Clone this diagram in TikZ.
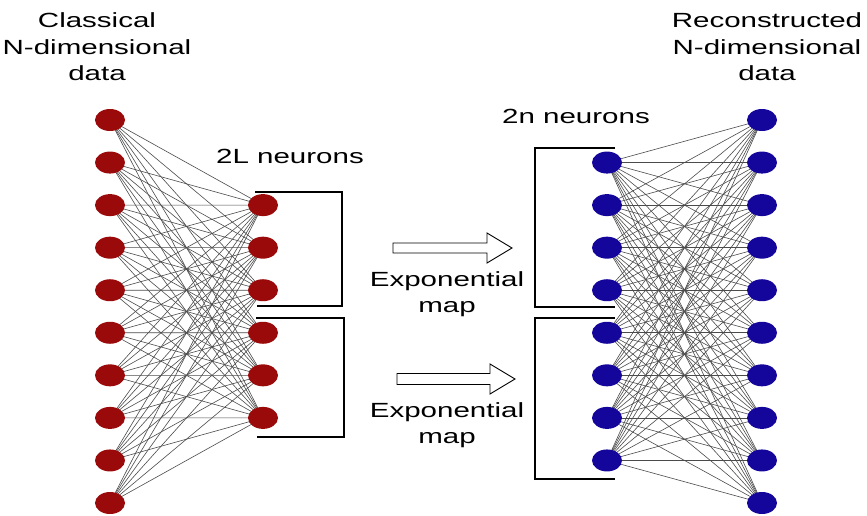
\documentclass[tikz,border=0pt]{standalone}
\usepackage{fontspec}
\setmainfont[FakeStretch=1.44]{Liberation Sans}
\usetikzlibrary{shapes.geometric}
\definecolor{nred}{RGB}{155,10,10}
\definecolor{nblue}{RGB}{20,5,155}
\definecolor{edgegray}{RGB}{75,75,75}
\pgfdeclarelayer{bg}
\pgfsetlayers{bg,main}
\tikzset{
  neuronR/.style={ellipse, fill=nred, minimum width=30pt, minimum height=22pt, inner sep=0pt},
  neuronB/.style={ellipse, fill=nblue, minimum width=30pt, minimum height=22pt, inner sep=0pt},
  edgeline/.style={draw=edgegray, line width=0.6pt},
  bracketline/.style={draw=black, line width=2pt},
  hollowarrow/.style={draw=black, line width=0.9pt, fill=white, line join=miter},
  lbl/.style={anchor=base, inner sep=0pt, font=\fontsize{20.5}{24}\selectfont}
}
\begin{document}
\begin{tikzpicture}[x=1pt,y=-1pt]
\useasboundingbox (0,0) rectangle (867,515);
% neurons
\foreach \i in {1,...,10} {
  \node[neuronR] (l\i) at (110,{120+42.555*(\i-1)}) {};
  \node[neuronB] (r\i) at (762,{120+42.555*(\i-1)}) {};
}
\foreach \j in {1,...,6} {
  \node[neuronR] (m\j) at (263,{205.11+42.555*(\j-1)}) {};
}
\foreach \j in {1,...,8} {
  \node[neuronB] (b\j) at (607,{162.555+42.555*(\j-1)}) {};
}
% connections
\begin{pgfonlayer}{bg}
\foreach \i in {1,...,10} {
  \foreach \j in {1,...,6} {
    \draw[edgeline] (l\i.center) -- (m\j.center);
  }
  \foreach \j in {1,...,8} {
    \draw[edgeline] (b\j.center) -- (r\i.center);
  }
}
\end{pgfonlayer}
% brackets
\draw[bracketline] (255,192) -- (342,192) -- (342,306) -- (257,306);
\draw[bracketline] (256,318) -- (344,318) -- (344,437) -- (257,437);
\draw[bracketline] (615,148) -- (535,148) -- (535,307) -- (615,307);
\draw[bracketline] (615,318) -- (535,318) -- (535,479) -- (615,479);
% block arrows
\draw[hollowarrow] (393,243) -- (487,243) -- (487,233) -- (512,248) -- (487,263) -- (487,253) -- (393,253) -- cycle;
\draw[hollowarrow] (397,373.5) -- (490,373.5) -- (490,364) -- (515,379) -- (490,394) -- (490,384.5) -- (397,384.5) -- cycle;
% texts
\node[lbl] (t1) at (97,27) {Classical};
\node[lbl] (t2) at (97,54) {N-dimensional};
\node[lbl] (t3) at (97,80) {data};
\node[lbl] (t4) at (767,27) {Reconstructed};
\node[lbl] (t5) at (767,54) {N-dimensional};
\node[lbl] (t6) at (767,80) {data};
\node[lbl] (t7) at (290,163) {2L neurons};
\node[lbl] (t8) at (576,123) {2n neurons};
\node[lbl] (t9) at (447,286) {Exponential};
\node[lbl] (t10) at (447,312) {map};
\node[lbl] (t11) at (447,417) {Exponential};
\node[lbl] (t12) at (447,443) {map};
\end{tikzpicture}
\end{document}
